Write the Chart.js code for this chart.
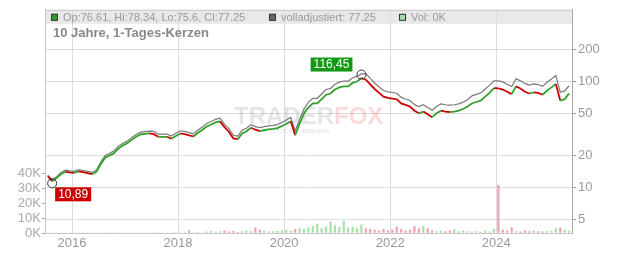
<!DOCTYPE html>
<html>
<head>
<meta charset="utf-8">
<script src="https://cdn.jsdelivr.net/npm/chart.js@4/dist/chart.umd.min.js"></script>
<style>
  html, body { margin: 0; padding: 0; background: #fff; }
  #wrap { width: 632px; height: 253px; }
</style>
</head>
<body>
<div id="wrap"><canvas id="chart" width="632" height="253"></canvas></div>
<script>
// months, Jul 2015 .. May 2025
var months = [
  '2015-07','2015-08','2015-09','2015-10','2015-11','2015-12',
  '2016-01','2016-02','2016-03','2016-04','2016-05','2016-06','2016-07','2016-08','2016-09','2016-10','2016-11','2016-12',
  '2017-01','2017-02','2017-03','2017-04','2017-05','2017-06','2017-07','2017-08','2017-09','2017-10','2017-11','2017-12',
  '2018-01','2018-02','2018-03','2018-04','2018-05','2018-06','2018-07','2018-08','2018-09','2018-10','2018-11','2018-12',
  '2019-01','2019-02','2019-03','2019-04','2019-05','2019-06','2019-07','2019-08','2019-09','2019-10','2019-11','2019-12',
  '2020-01','2020-02','2020-03','2020-04','2020-05','2020-06','2020-07','2020-08','2020-09','2020-10','2020-11','2020-12',
  '2021-01','2021-02','2021-03','2021-04','2021-05','2021-06','2021-07','2021-08','2021-09','2021-10','2021-11','2021-12',
  '2022-01','2022-02','2022-03','2022-04','2022-05','2022-06','2022-07','2022-08','2022-09','2022-10','2022-11','2022-12',
  '2023-01','2023-02','2023-03','2023-04','2023-05','2023-06','2023-07','2023-08','2023-09','2023-10','2023-11','2023-12',
  '2024-01','2024-02','2024-03','2024-04','2024-05','2024-06','2024-07','2024-08','2024-09','2024-10','2024-11','2024-12',
  '2025-01','2025-02','2025-03','2025-04','2025-05'
];

// closing prices
var closes = [
  12.7, 11.4, 12.2, 13.3, 14.0, 13.8,
  13.7, 14.1, 13.9, 13.6, 13.3, 14.0, 16.5, 19.0, 20.0, 21.0, 23.3, 24.8,
  26.0, 28.2, 30.0, 31.6, 32.0, 32.3, 31.8, 30.0, 30.0, 30.0, 28.8, 30.5,
  32.3, 31.8, 31.0, 30.2, 32.8, 35.0, 37.5, 39.2, 41.0, 42.0, 37.0, 33.5,
  29.0, 28.5, 32.3, 33.8, 36.5, 35.0, 34.0, 34.6, 35.2, 35.6, 36.2, 38.0,
  39.6, 42.0, 31.0, 40.0, 50.0, 57.0, 62.0, 62.0, 68.0, 75.0, 77.0, 84.0,
  88.0, 90.0, 90.0, 97.0, 100.0, 108.0, 104.0, 94.0, 85.0, 78.0, 72.0, 70.0,
  69.0, 68.0, 62.0, 60.0, 58.0, 53.0, 50.0, 52.0, 49.0, 46.0, 50.0, 53.0,
  52.0, 51.5, 52.0, 53.0, 55.0, 58.0, 62.0, 64.0, 66.0, 72.0, 78.0, 86.5,
  86.0, 84.0, 80.0, 76.0, 90.0, 86.0, 80.0, 77.0, 79.0, 78.0, 75.0, 82.0,
  88.0, 95.0, 66.0, 68.0, 77.25
];

// volladjustiert
var adjusted = [
  13.0, 11.8, 12.6, 13.8, 14.5, 14.3,
  14.2, 14.6, 14.4, 14.1, 13.8, 14.5, 17.3, 20.0, 21.0, 22.1, 24.5, 26.0,
  27.3, 29.6, 31.5, 33.2, 33.6, 34.0, 33.7, 31.8, 31.8, 31.8, 30.5, 32.4,
  34.2, 33.7, 32.9, 32.0, 34.8, 37.1, 40.1, 41.9, 43.9, 44.9, 39.6, 35.8,
  31.0, 30.5, 34.6, 36.2, 39.1, 37.5, 36.7, 37.4, 38.0, 38.5, 39.1, 41.0,
  43.2, 45.8, 34.1, 44.0, 55.0, 63.8, 69.4, 69.4, 76.2, 84.0, 86.2, 94.1,
  98.6, 100.8, 100.8, 108.6, 112.0, 118.0, 118.6, 107.2, 96.9, 88.9, 82.1, 79.8,
  78.7, 77.5, 70.7, 68.4, 66.1, 60.4, 58.0, 60.3, 56.8, 53.4, 58.0, 61.5,
  60.3, 59.7, 60.3, 61.5, 63.8, 67.3, 73.2, 75.5, 77.9, 85.0, 92.0, 101.5,
  101.5, 99.1, 94.4, 89.7, 106.2, 101.5, 96.0, 92.4, 94.8, 93.6, 90.0, 98.4,
  105.6, 114.0, 79.2, 81.6, 91.2
];

// volume in shares
var volumes = [
  0, 0, 0, 0, 0, 0,
  0, 0, 0, 0, 0, 0, 0, 0, 0, 0, 0, 0,
  0, 0, 0, 0, 0, 0, 0, 0, 0, 0, 0, 0,
  0, 0, 1500, 0, 500, 0, 800, 1200, 600, 1000, 1500, 800,
  1200, 500, 1000, 1500, 1000, 3500, 2000, 1500, 800, 1000, 1200, 1500,
  2000, 1500, 2500, 3000, 2500, 3500, 4500, 6000, 3000, 4000, 7500, 5000,
  4000, 8000, 3500, 4000, 3000, 5500, 3000, 2500, 2000, 1500, 2500, 1500,
  2000, 4000, 2500, 1500, 2000, 4500, 3000, 4500, 3000, 1500, 1000, 1500,
  1000, 1500, 2500, 1000, 1500, 1000, 800, 1000, 500, 1500, 800, 2500,
  32000, 2000, 1500, 3500, 1000, 800, 1500, 1000, 1500, 1000, 800, 1000,
  1200, 3000, 3500, 2000, 1500
];

var yearTicks = [2016, 2018, 2020, 2022, 2024];
var priceTicks = [5, 10, 20, 50, 100, 200];
var volTicks = [0, 10000, 20000, 30000, 40000];

var highMark = { month: '2021-06', value: 116.45, label: '116,45' };
var lowMark = { month: '2015-08', value: 10.89, label: '10,89' };

var UP = '#33a02c';
var DOWN = '#cc0000';
var FONT = '"Liberation Sans", Arial, sans-serif';

function monthToYear(m) {
  var p = m.split('-');
  return +p[0] + (+p[1] - 0.5) / 12;
}

var xs = months.map(monthToYear);
var closePts = closes.map(function (v, i) { return { x: xs[i], y: v }; });
var adjPts = adjusted.map(function (v, i) { return { x: xs[i], y: v }; });
var volPts = volumes.map(function (v, i) { return { x: xs[i], y: v }; });
var volColors = closes.map(function (v, i) {
  return (i === 0 || v >= closes[i - 1]) ? 'rgba(110,200,110,0.6)' : 'rgba(235,120,135,0.7)';
});

// header bar, title, watermark, marker circles
var decorations = {
  id: 'decorations',
  beforeDraw: function (chart) {
    var ctx = chart.ctx, a = chart.chartArea;
    ctx.save();
    ctx.fillStyle = '#e8e8e8';
    ctx.fillRect(a.left, a.top, a.right - a.left, 14);
    ctx.restore();
  },
  beforeDatasetsDraw: function (chart) {
    var ctx = chart.ctx;
    ctx.save();
    ctx.font = 'bold 24px ' + FONT;
    ctx.textBaseline = 'middle';
    ctx.fillStyle = 'rgba(0,0,0,0.1)';
    ctx.fillText('TRADER', 234, 117);
    var w = ctx.measureText('TRADER').width;
    ctx.fillStyle = 'rgba(230,70,70,0.2)';
    ctx.fillText('FOX', 234 + w, 117);
    ctx.font = '6px ' + FONT;
    ctx.fillStyle = 'rgba(0,0,0,0.15)';
    ctx.fillText('STOCK SCREENING', 272, 131);
    ctx.restore();
  },
  afterDraw: function (chart) {
    var ctx = chart.ctx, a = chart.chartArea;
    var xScale = chart.scales.x, yScale = chart.scales.y;
    ctx.save();
    // frame top + left
    ctx.strokeStyle = '#c8c8c8';
    ctx.lineWidth = 1;
    ctx.beginPath();
    ctx.moveTo(a.left + 0.5, a.bottom);
    ctx.lineTo(a.left + 0.5, a.top + 0.5);
    ctx.lineTo(a.right, a.top + 0.5);
    ctx.stroke();

    // header legend
    ctx.font = '11px ' + FONT;
    ctx.textBaseline = 'middle';
    var cy = a.top + 7.5;
    var items = [
      { x: 51, color: UP, text: 'Op:76.61, Hi:78.34, Lo:75.6, Cl:77.25' },
      { x: 269, color: '#666', text: 'volladjustiert: 77.25' },
      { x: 399, color: '#a8dca8', text: 'Vol: 0K' }
    ];
    items.forEach(function (it) {
      ctx.fillStyle = it.color;
      ctx.fillRect(it.x, cy - 3.5, 7, 7);
      ctx.strokeStyle = '#333';
      ctx.strokeRect(it.x + 0.5, cy - 3.5 + 0.5, 6, 6);
      ctx.fillStyle = '#999';
      ctx.fillText(it.text, it.x + 12, cy + 0.5);
    });

    // title
    ctx.font = 'bold 13px ' + FONT;
    ctx.fillStyle = '#888';
    ctx.fillText('10 Jahre, 1-Tages-Kerzen', 53, 33.5);

    // high / low markers
    ctx.font = '12px ' + FONT;
    [[highMark, '#119911', -1], [lowMark, '#cc0000', 1]].forEach(function (m) {
      var mk = m[0];
      var px = xScale.getPixelForValue(monthToYear(mk.month));
      var py = yScale.getPixelForValue(mk.value);
      ctx.strokeStyle = '#333';
      ctx.lineWidth = 1;
      ctx.beginPath();
      ctx.arc(px, py, 4.5, 0, Math.PI * 2);
      ctx.stroke();
      var tw = ctx.measureText(mk.label).width + 6;
      var bx, by;
      if (m[2] < 0) { bx = px - 9 - tw; by = py - 17; }
      else { bx = px + 3; by = py + 4; }
      ctx.fillStyle = m[1];
      ctx.fillRect(bx, by, tw, 14);
      ctx.fillStyle = '#fff';
      ctx.textBaseline = 'middle';
      ctx.fillText(mk.label, bx + 3, by + 7.5);
    });
    ctx.restore();
  }
};

new Chart(document.getElementById('chart'), {
  type: 'bar',
  data: {
    datasets: [
      {
        type: 'line',
        data: closePts,
        yAxisID: 'y',
        borderWidth: 1.8,
        pointRadius: 0,
        borderColor: DOWN,
        segment: {
          borderColor: function (c) { return c.p1.parsed.y >= c.p0.parsed.y ? UP : DOWN; }
        },
        order: 1
      },
      {
        type: 'line',
        data: adjPts,
        yAxisID: 'y',
        borderWidth: 1.2,
        pointRadius: 0,
        borderColor: '#7a7a7a',
        order: 2
      },
      {
        type: 'bar',
        data: volPts,
        yAxisID: 'yVol',
        backgroundColor: volColors,
        barThickness: 1.5,
        order: 3
      }
    ]
  },
  options: {
    responsive: false,
    animation: false,
    layout: { padding: { top: 8, left: 0, right: 0, bottom: 0 } },
    plugins: { legend: { display: false }, tooltip: { enabled: false } },
    scales: {
      x: {
        type: 'linear',
        offset: false,
        min: 2015.49,
        max: 2025.43,
        afterBuildTicks: function (s) { s.ticks = yearTicks.map(function (v) { return { value: v }; }); },
        afterFit: function (s) { s.height = 20; },
        ticks: {
          font: { family: FONT, size: 13 },
          color: '#999',
          padding: 3,
          maxRotation: 0,
          callback: function (v) { return String(v); }
        },
        grid: { color: '#dcdcdc', drawTicks: false, offset: false },
        border: { color: '#c8c8c8' }
      },
      y: {
        type: 'logarithmic',
        position: 'right',
        min: 3.69,
        max: 477,
        afterBuildTicks: function (s) { s.ticks = priceTicks.map(function (v) { return { value: v }; }); },
        afterFit: function (s) { s.width = 60; },
        ticks: {
          font: { family: FONT, size: 13 },
          color: '#999',
          padding: 2,
          callback: function (v) { return String(v); }
        },
        grid: { color: '#dcdcdc', tickColor: '#999', tickLength: 4 },
        border: { color: '#aaa' }
      },
      yVol: {
        type: 'linear',
        position: 'left',
        min: 0,
        max: 150000,
        afterBuildTicks: function (s) { s.ticks = volTicks.map(function (v) { return { value: v }; }); },
        afterFit: function (s) { s.width = 45; },
        ticks: {
          font: { family: FONT, size: 13 },
          color: '#aaa',
          padding: 1,
          callback: function (v) { return (v / 1000) + 'K'; }
        },
        grid: { drawOnChartArea: false, tickColor: '#aaa', tickLength: 3 },
        border: { color: '#c8c8c8' }
      }
    }
  },
  plugins: [decorations]
});
</script>
</body>
</html>
